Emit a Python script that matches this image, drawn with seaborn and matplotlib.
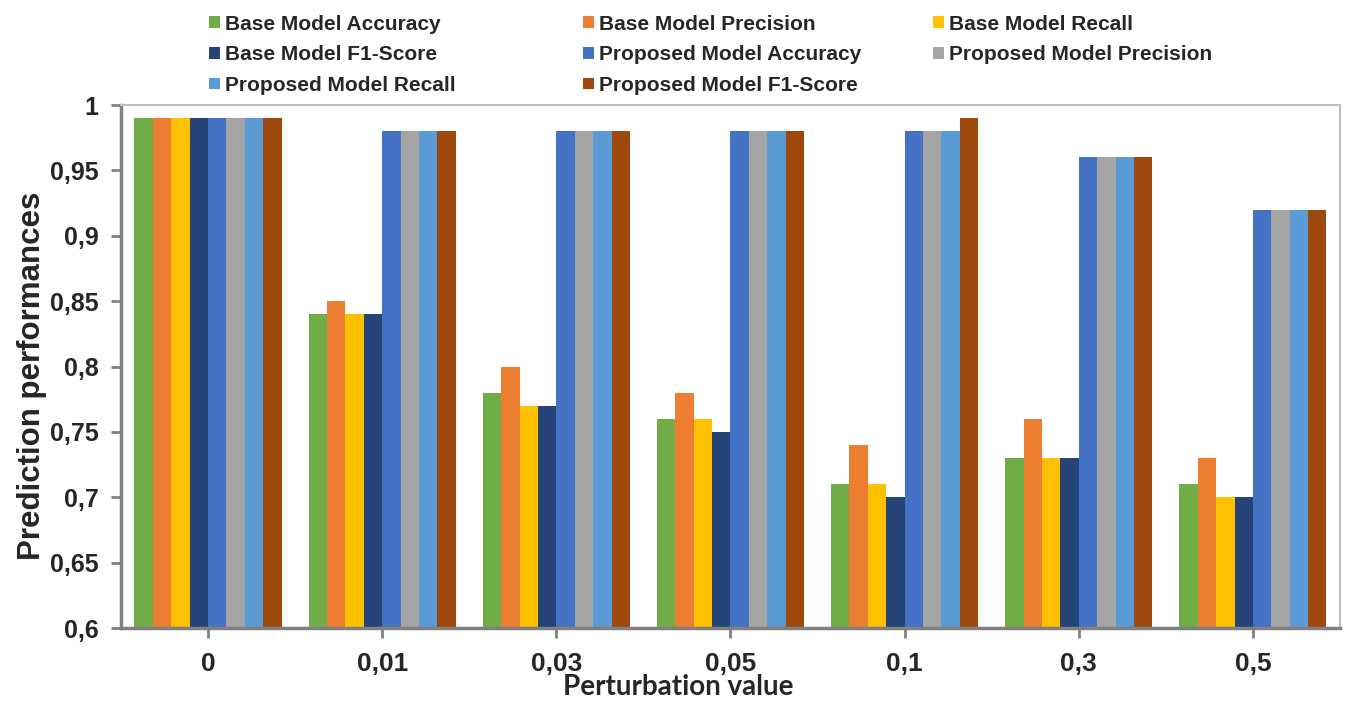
import matplotlib
matplotlib.use("Agg")
import matplotlib.pyplot as plt
import seaborn as sns
import pandas as pd
from matplotlib.patches import Patch

# Perturbation levels shown on the x axis
perturbations = ["0", "0,01", "0,03", "0,05", "0,1", "0,3", "0,5"]

# Metric series, one value per perturbation level
base_accuracy = [0.99, 0.84, 0.78, 0.76, 0.71, 0.73, 0.71]
base_precision = [0.99, 0.85, 0.80, 0.78, 0.74, 0.76, 0.73]
base_recall = [0.99, 0.84, 0.77, 0.76, 0.71, 0.73, 0.70]
base_f1 = [0.99, 0.84, 0.77, 0.75, 0.70, 0.73, 0.70]
prop_accuracy = [0.99, 0.98, 0.98, 0.98, 0.98, 0.96, 0.92]
prop_precision = [0.99, 0.98, 0.98, 0.98, 0.98, 0.96, 0.92]
prop_recall = [0.99, 0.98, 0.98, 0.98, 0.98, 0.96, 0.92]
prop_f1 = [0.99, 0.98, 0.98, 0.98, 0.99, 0.96, 0.92]

series_names = [
    "Base Model Accuracy", "Base Model Precision", "Base Model Recall",
    "Base Model F1-Score", "Proposed Model Accuracy", "Proposed Model Precision",
    "Proposed Model Recall", "Proposed Model F1-Score",
]
series_values = [base_accuracy, base_precision, base_recall, base_f1,
                 prop_accuracy, prop_precision, prop_recall, prop_f1]

y_ticks = [0.6, 0.65, 0.7, 0.75, 0.8, 0.85, 0.9, 0.95, 1.0]
y_tick_labels = ["0,6", "0,65", "0,7", "0,75", "0,8", "0,85", "0,9", "0,95", "1"]

colors = ["#70AD47", "#ED7D31", "#FFC000", "#264478",
          "#4472C4", "#A5A5A5", "#5B9BD5", "#9E480E"]

rows = []
for name, vals in zip(series_names, series_values):
    for p, v in zip(perturbations, vals):
        rows.append({"Perturbation": p, "Metric": name, "Value": v})
df = pd.DataFrame(rows)

sns.set_style("white")
plt.rcParams["font.family"] = ["Liberation Sans", "DejaVu Sans"]
plt.rcParams["font.weight"] = "bold"

fig = plt.figure(figsize=(13.47, 7.01), dpi=100)
ax = fig.add_axes([0.0898, 0.1041, 0.9050, 0.7461])

sns.barplot(data=df, x="Perturbation", y="Value", hue="Metric",
            order=perturbations, hue_order=series_names,
            palette=colors, width=0.845, saturation=1, ax=ax,
            legend=False, linewidth=0)

ax.set_ylim(0.6, 1.0)
ax.set_xlim(-0.5, len(perturbations) - 0.5)
ax.set_yticks(y_ticks)
ax.set_yticklabels(y_tick_labels, fontsize=18, fontweight="bold")
ax.set_xticks(range(len(perturbations)))
ax.set_xticklabels(perturbations, fontsize=19, fontweight="bold")
ax.tick_params(axis="both", direction="out", length=7, width=2, color="#808080",
               left=True, bottom=True)
ax.tick_params(axis="x", pad=10)
ax.tick_params(axis="y", pad=9)

ax.set_ylabel("Prediction performances", fontsize=22.5, fontweight="bold")
ax.yaxis.set_label_coords(-0.061, 0.483)
ax.set_xlabel("Perturbation value", fontsize=20, fontweight="bold",
              family=["Lato", "DejaVu Sans"])
ax.xaxis.set_label_coords(0.457, -0.088)

for side in ["left", "bottom"]:
    ax.spines[side].set_color("#808080")
    ax.spines[side].set_linewidth(2.5)
for side in ["top", "right"]:
    ax.spines[side].set_visible(True)
    ax.spines[side].set_color("#BFBFBF")
    ax.spines[side].set_linewidth(1.5)

# Legend drawn as three columns, filled row by row
handles = [Patch(facecolor=c, edgecolor="none") for c in colors]
col_x = [194 / 1347, 568 / 1347, 918 / 1347]
for ci in range(3):
    idx = list(range(ci, len(series_names), 3))
    fig.legend([handles[i] for i in idx], [series_names[i] for i in idx],
               loc="upper left", bbox_to_anchor=(col_x[ci], 1.0),
               frameon=False, ncol=1,
               prop={"weight": "bold", "size": 15},
               handlelength=0.55, handleheight=0.5, handletextpad=0.25,
               labelspacing=0.56, borderaxespad=0.3)

fig.savefig("out.png", dpi=100)
